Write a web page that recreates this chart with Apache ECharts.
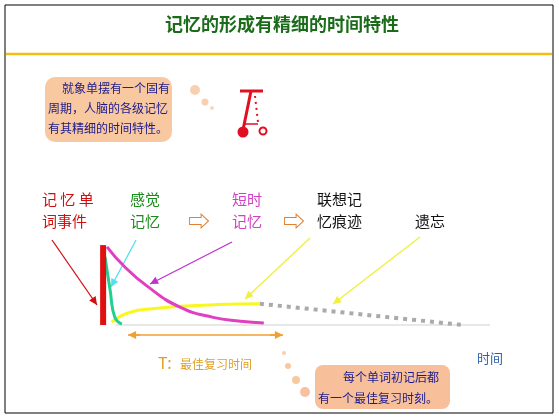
<!DOCTYPE html><html><head><meta charset="utf-8">
<script src="https://cdn.jsdelivr.net/npm/echarts@6/dist/echarts.min.js"></script>
<style>html,body{margin:0;padding:0;background:#fff}#c{width:559px;height:420px}</style></head><body><div id="c"></div>
<script>
var eventBar=[[0.8,0],[0.8,94]];
var shortTerm=[[1.8,92],[6,70],[12,46],[20.5,21],[29,9],[36,4.5],[42,2.4]];
var sensory=[[1.3,80],[2.6,41],[3.8,9],[5.6,1]];
var assoc=[[3,3.5],[7.7,15],[14,19.5],[20.5,22],[30,24],[41,25]];
var forget=[[41,25],[93,0]];
var timeAxis=[[4,0],[100,0]];
var title='记忆的形成有精细的时间特性';
var ch=echarts.init(document.getElementById('c'));
var F='"Noto Sans CJK SC"';
function arrow(x1,y1,x2,y2,c,w){var a=Math.atan2(y2-y1,x2-x1),L=9,s=0.45;
return [{type:'line',shape:{x1:x1,y1:y1,x2:x2,y2:y2},style:{stroke:c,lineWidth:w||1.5}},
{type:'polygon',shape:{points:[[x2,y2],[x2-L*Math.cos(a-s),y2-L*Math.sin(a-s)],[x2-L*Math.cos(a+s),y2-L*Math.sin(a+s)]]},style:{fill:c}}];}
function txt(x,y,t,c,sz,extra){var o={type:'text',x:x,y:y,style:{text:t,fill:c,fontSize:sz||14,fontFamily:F}};if(extra)Object.assign(o.style,extra);return o;}
var g=[
{type:'rect',shape:{x:5,y:5,width:548,height:408},style:{fill:'none',stroke:'#000',lineWidth:1}},
{type:'line',shape:{x1:6,y1:54,x2:552,y2:54},style:{stroke:'#f0c010',lineWidth:2.5}},
txt(282,15,title,'#1b6b1b',18,{align:'center',fontWeight:'bold'}),
{type:'rect',shape:{x:45,y:77,width:127,height:65,r:10},style:{fill:'#f8c8a0'}},
txt(62,82,'就象单摆有一个固有','#1a1a8c',12),
txt(48,102,'周期，人脑的各级记忆','#1a1a8c',12),
txt(48,122,'有其精细的时间特性。','#1a1a8c',12),
{type:'circle',shape:{cx:195,cy:90,r:5},style:{fill:'#f8d0b0'}},
{type:'circle',shape:{cx:205,cy:102,r:3.5},style:{fill:'#f8d0b0'}},
{type:'circle',shape:{cx:212,cy:108,r:2},style:{fill:'#f8d8c0'}},
{type:'line',shape:{x1:240,y1:91,x2:263,y2:91},style:{stroke:'#e01020',lineWidth:3}},
{type:'line',shape:{x1:251,y1:91,x2:243,y2:130},style:{stroke:'#e01020',lineWidth:3}},
{type:'line',shape:{x1:255,y1:96,x2:258,y2:122},style:{stroke:'#e01020',lineWidth:2,lineDash:[2,4]}},
{type:'line',shape:{x1:245,y1:124,x2:258,y2:124},style:{stroke:'#e01020',lineWidth:1.5}},
{type:'circle',shape:{cx:243,cy:132,r:5.5},style:{fill:'#e01020'}},
{type:'circle',shape:{cx:263,cy:131,r:3.5},style:{fill:'none',stroke:'#e01020',lineWidth:2}},
txt(42,192,'记 忆 单','#d01010',15),txt(42,214,'词事件','#d01010',15),
txt(130,192,'感觉','#1a8a1a',15),txt(130,214,'记忆','#1a8a1a',15),
txt(188,210,'⇨','#e08030',22,{fontWeight:'bold'}),
txt(232,192,'短时','#d040c0',15),txt(232,214,'记忆','#d040c0',15),
txt(283,210,'⇨','#e08030',22,{fontWeight:'bold'}),
txt(317,192,'联想记','#111',15),txt(317,214,'忆痕迹','#111',15),
txt(415,214,'遗忘','#111',15),
txt(158,355,'T:','#e0a020',16),txt(180,358,'最佳复习时间','#e0a020',12),
txt(477,352,'时间','#3060a8',13),
{type:'circle',shape:{cx:284,cy:353,r:2},style:{fill:'#f8d0b0'}},
{type:'circle',shape:{cx:288,cy:366,r:3},style:{fill:'#f8c8a0'}},
{type:'circle',shape:{cx:296,cy:380,r:4},style:{fill:'#f8c8a0'}},
{type:'circle',shape:{cx:305,cy:392,r:5},style:{fill:'#f8c0a0'}},
{type:'rect',shape:{x:315,y:365,width:135,height:44,r:8},style:{fill:'#f8c09a'}},
txt(343,371,'每个单词初记后都','#1a1a8c',12),
txt(318,392,'有一个最佳复习时刻。','#1a1a8c',12),
{type:'line',shape:{x1:130,y1:335,x2:280,y2:335},style:{stroke:'#f0a030',lineWidth:1.5}}
];
g=g.concat(arrow(52,240,97,305,'#d01010',1.3),arrow(136,240,111,287,'#50e0f0',1.3),
arrow(232,242,150,284,'#c030d0',1.3),arrow(310,238,245,299,'#f0f040',1.5),
arrow(420,237,333,304,'#f0f040',1.5),arrow(140,335,128,335,'#f0a030',1.5),arrow(270,335,283,335,'#f0a030',1.5));
ch.setOption({animation:false,
grid:{left:100,right:69,top:240,bottom:95},
xAxis:{type:'value',min:0,max:100,show:false},
yAxis:{type:'value',min:0,max:100,show:false},
graphic:g,
series:[
{type:'line',data:timeAxis,symbol:'none',lineStyle:{color:'#e8e8e8',width:2},z:1},
{type:'line',data:forget,symbol:'none',lineStyle:{color:'#aaa',width:4,type:[4,5]},z:2},
{type:'line',data:assoc,smooth:true,symbol:'none',lineStyle:{color:'#f8f820',width:3},z:3},
{type:'line',data:shortTerm,smooth:true,symbol:'none',lineStyle:{color:'#e040c0',width:3},z:4},
{type:'line',data:sensory,smooth:true,symbol:'none',lineStyle:{color:'#20d090',width:3},z:5},
{type:'line',data:eventBar,symbol:'none',lineStyle:{color:'#e01010',width:6,cap:'butt'},z:6}
]});
</script></body></html>
